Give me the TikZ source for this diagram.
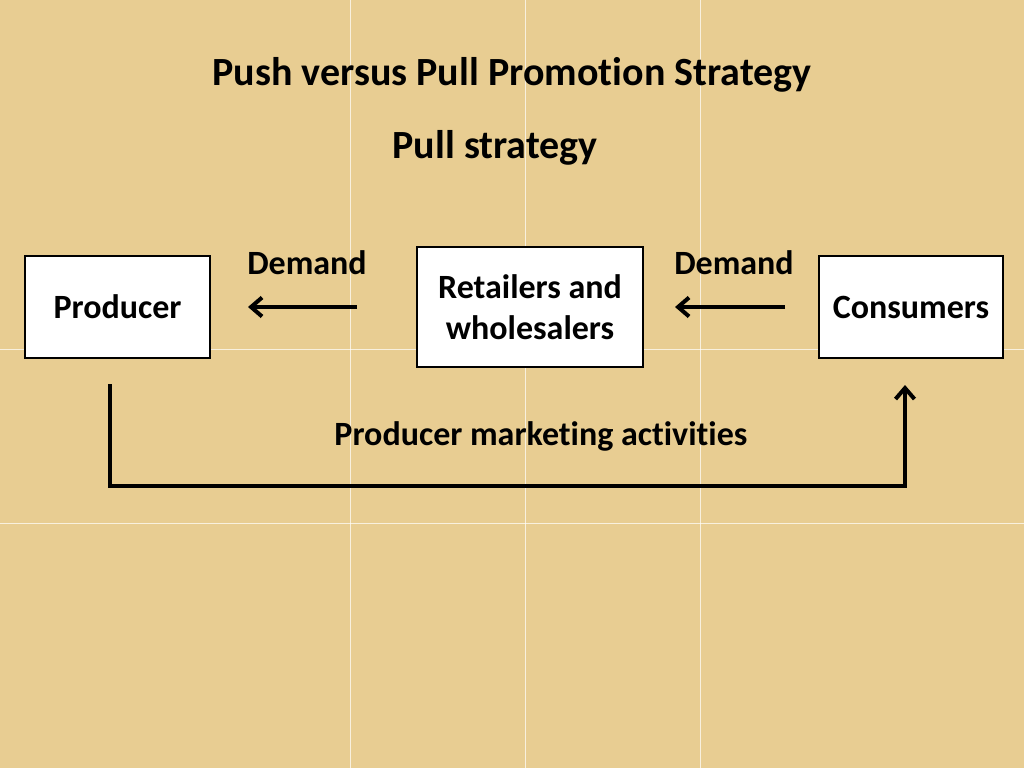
\documentclass[tikz,border=0pt]{standalone}
\usepackage{fontspec}
\setmainfont{Carlito}[Ligatures=NoCommon]
\usetikzlibrary{arrows.meta}
\definecolor{papyrus}{HTML}{E8CD92}
\begin{document}
\begin{tikzpicture}[x=1pt,y=-1pt,
  box/.style={draw=black,line width=2.8pt,fill=white,inner sep=0pt,font=\fontsize{34}{41}\selectfont\bfseries,align=center},
  lbl/.style={font=\fontsize{34}{41}\selectfont\bfseries,inner sep=0pt},
  flow/.style={line width=3.8pt,-{Straight Barb[length=11pt,width=19pt,line width=4pt]}}]
\fill[papyrus] (0,0) rectangle (1024,768);
\useasboundingbox (0,0) rectangle (1024,768);
\foreach \gx in {350,525,700} \draw[white,opacity=0.7,line width=0.8pt] (\gx,0) -- (\gx,768);
\foreach \gy in {349,523} \draw[white,opacity=0.7,line width=0.8pt] (0,\gy) -- (1024,\gy);
\node[lbl,font=\fontsize{40}{48}\selectfont\bfseries] (title) at (512,75) {Push versus Pull Promotion Strategy};
\node[lbl,font=\fontsize{40}{48}\selectfont\bfseries] (sub) at (495,148) {Pull strategy};
\node[box,minimum width=185pt,minimum height=102pt] (prod) at (117.5,307) {Producer};
\node[box,minimum width=226pt,minimum height=120pt] (ret) at (530,307) {Retailers and\\wholesalers};
\node[box,minimum width=184pt,minimum height=102pt] (cons) at (911,307) {Consumers};
\node[lbl] (d1) at (307,263) {Demand};
\node[lbl] (d2) at (734,263) {Demand};
\coordinate (a1s) at (357,307);
\coordinate (a1e) at (248,307);
\coordinate (a2s) at (785,307);
\coordinate (a2e) at (675,307);
\draw[flow] (a1s) -- (a1e);
\draw[flow] (a2s) -- (a2e);
\coordinate (bs) at (110,384);
\coordinate (be) at (905,385);
\draw[flow] (bs) |- (505,486) -| (be);
\node[lbl] (pma) at (541,436) {Producer marketing activities};
\end{tikzpicture}
\end{document}
